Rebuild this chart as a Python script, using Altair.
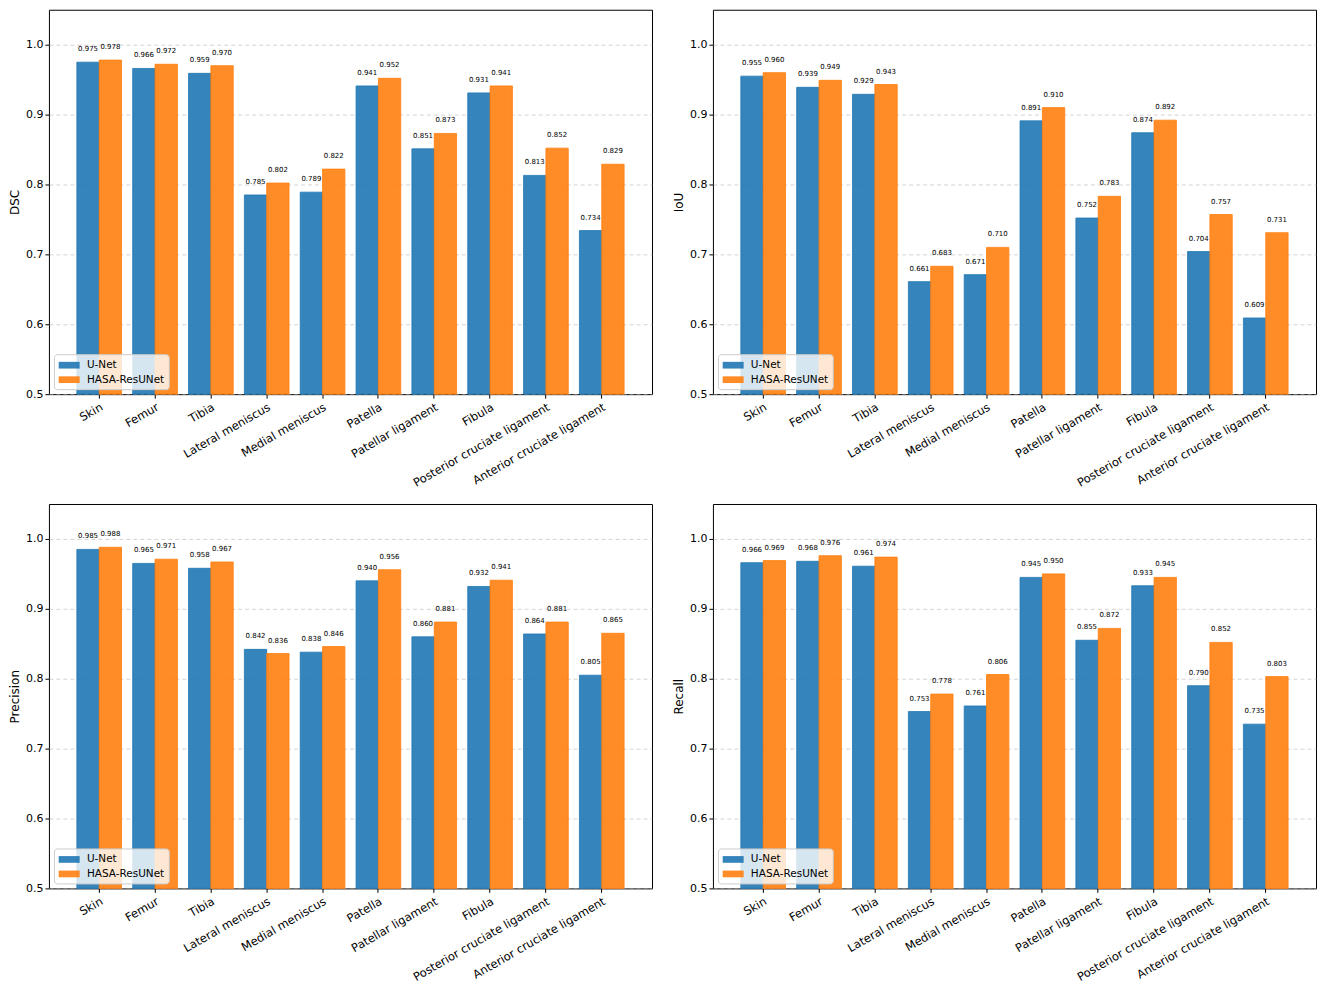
import altair as alt
import pandas as pd

structures = ["Skin", "Femur", "Tibia", "Lateral meniscus", "Medial meniscus",
              "Patella", "Patellar ligament", "Fibula",
              "Posterior cruciate ligament", "Anterior cruciate ligament"]
models = ["U-Net", "HASA-ResUNet"]

dsc_unet = [0.975, 0.966, 0.959, 0.785, 0.789, 0.941, 0.851, 0.931, 0.813, 0.734]
dsc_hasa = [0.978, 0.972, 0.970, 0.802, 0.822, 0.952, 0.873, 0.941, 0.852, 0.829]
iou_unet = [0.955, 0.939, 0.929, 0.661, 0.671, 0.891, 0.752, 0.874, 0.704, 0.609]
iou_hasa = [0.960, 0.949, 0.943, 0.683, 0.710, 0.910, 0.783, 0.892, 0.757, 0.731]
prec_unet = [0.985, 0.965, 0.958, 0.842, 0.838, 0.940, 0.860, 0.932, 0.864, 0.805]
prec_hasa = [0.988, 0.971, 0.967, 0.836, 0.846, 0.956, 0.881, 0.941, 0.881, 0.865]
rec_unet = [0.966, 0.968, 0.961, 0.753, 0.761, 0.945, 0.855, 0.933, 0.790, 0.735]
rec_hasa = [0.969, 0.976, 0.974, 0.778, 0.806, 0.950, 0.872, 0.945, 0.852, 0.803]

metrics = [("DSC", dsc_unet, dsc_hasa), ("IoU", iou_unet, iou_hasa),
           ("Precision", prec_unet, prec_hasa), ("Recall", rec_unet, rec_hasa)]

FONT = "DejaVu Sans"
W, H = 604, 385
COLORS = ["#1f77b4", "#ff7f0e"]


def panel(name, u, h):
    rows = []
    for s, a, b in zip(structures, u, h):
        rows.append({"structure": s, "model": models[0], "value": a})
        rows.append({"structure": s, "model": models[1], "value": b})
    df = pd.DataFrame(rows)
    x = alt.X("structure:N", sort=structures, title=None,
              scale=alt.Scale(paddingInner=0.2, paddingOuter=0.5),
              axis=alt.Axis(labelAngle=330, labelAlign="right", labelBaseline="top",
                            labelFontSize=11.5, labelFont=FONT, tickSize=4,
                            tickColor="black", domain=False, labelPadding=3,
                            labelColor="black"))
    xo = alt.XOffset("model:N", sort=models,
                     scale=alt.Scale(paddingInner=0, paddingOuter=0))
    y = alt.Y("value:Q", title=name,
              scale=alt.Scale(domain=[0.5, 1.05], zero=False, nice=False),
              axis=alt.Axis(values=[0.5, 0.6, 0.7, 0.8, 0.9, 1.0], format=".1f",
                            labelFontSize=11, labelFont=FONT, labelColor="black",
                            titleFontSize=12, titleFont=FONT, titleFontWeight="normal",
                            titleColor="black", tickSize=4, tickColor="black",
                            domain=False, grid=True, gridDash=[4, 3],
                            gridColor="#b0b0b0", gridOpacity=0.7, gridWidth=0.8,
                            titlePadding=4))
    color = alt.Color("model:N", sort=models,
                      scale=alt.Scale(domain=models, range=COLORS),
                      legend=alt.Legend(title=None, orient="bottom-left",
                                        offset=5, labelFont=FONT, labelFontSize=10.5,
                                        labelColor="black", labelOffset=15,
                                        fillColor="rgba(255,255,255,0.8)",
                                        strokeColor="#cccccc", cornerRadius=3,
                                        padding=4, rowPadding=1.5,
                                        symbolType="M-0.89,-0.48L2.11,-0.48L2.11,0.48L-0.89,0.48Z",
                                        symbolSize=196, symbolOpacity=0.9,
                                        symbolStrokeWidth=0))
    bars = alt.Chart(df).mark_bar(fillOpacity=0.9, strokeWidth=0.8).encode(
        x=x, xOffset=xo, y=y, y2=alt.datum(0.5), color=color,
        stroke=alt.Stroke("model:N", sort=models,
                          scale=alt.Scale(domain=models, range=COLORS),
                          legend=None))
    text = alt.Chart(df).mark_text(fontSize=7, font=FONT, baseline="bottom",
                                   dy=-10, color="black").encode(
        x=alt.X("structure:N", sort=structures), xOffset=xo, y="value:Q",
        text=alt.Text("value:Q", format=".3f"))
    return alt.layer(bars, text).properties(width=W, height=H)


charts = [panel(n, u, h) for n, u, h in metrics]
chart = alt.concat(*charts, columns=2, spacing=alt.RowColnumber(row=13, column=19)
                   if hasattr(alt, "RowColnumber") else 19).resolve_scale(
    color="independent", stroke="independent"
).resolve_legend(color="independent").properties(
    padding=0, background="white"
).configure_view(stroke="black", strokeWidth=1)

chart.save("out.html", embed_options={"renderer": "svg", "actions": False})
